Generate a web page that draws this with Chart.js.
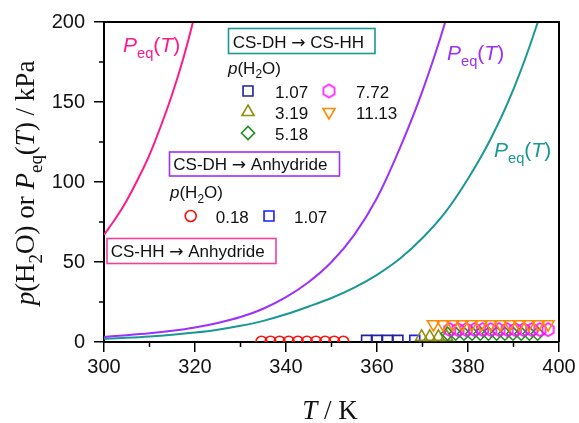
<!DOCTYPE html>
<html>
<head>
<meta charset="utf-8">
<script src="https://cdn.jsdelivr.net/npm/chart.js@4.4.1/dist/chart.umd.min.js"></script>
<style>
  html, body { margin: 0; padding: 0; background: #fff; }
  #wrap { width: 579px; height: 423px; }
</style>
</head>
<body>
<div id="wrap"><canvas id="chart" width="579" height="423"></canvas></div>
<script>
// axis ticks: temperature (K) and pressure (kPa)
const xTicks = [300, 320, 340, 360, 380, 400];
const yTicks = [0, 50, 100, 150, 200];

// equilibrium curves P_eq(T)
const hhAnhT = [300, 302.5, 305, 307.5, 310, 312.5, 315, 317.5, 320, 322.5];
const hhAnhP = [67, 77, 88.5, 102, 117, 135, 155, 178, 205, 235];

const dhAnhT = [300, 305, 310, 315, 320, 325, 330, 335, 340, 345, 350, 355, 360, 365, 370, 375, 380];
const dhAnhP = [3.2, 4.2, 5.4, 7.0, 9.1, 11.9, 15.6, 20.8, 28, 37.5, 50, 67, 90, 121, 157, 200, 252];

const dhHhT = [300, 305, 310, 315, 320, 325, 330, 335, 340, 345, 350, 355, 360, 365, 370, 375, 380, 385, 390, 395, 400];
const dhHhP = [2.0, 2.6, 3.4, 4.5, 5.9, 7.7, 10.1, 13.2, 17.3, 22.2, 27.5, 34, 42, 52, 65, 81, 102, 127, 158, 197, 245];

// water vapour pressures of the runs (kPa)
const pAnh = [0.18, 1.07];                    // CS-DH -> Anhydride
const pHh = [1.07, 3.19, 5.18, 7.72, 11.13];  // CS-DH -> CS-HH

// temperatures of the measured points
const anhCircleT = [334.6, 336.6, 338.6, 340.6, 342.6, 344.6, 346.6, 348.6, 350.6, 352.6];
const anhSquareT = [368.3];
const hhSquareT = [357.7, 360.0, 362.3, 364.6];
const hhTriT = [369.8, 371.6, 373.5, 375.3];
const hhDiamondT = [375.5, 377.3, 379.1, 380.9, 382.7, 384.5, 386.3, 388.1, 389.9, 391.7, 393.5, 395.3];
const hhHexT = [376.0, 377.8, 379.6, 381.4, 383.2, 385.0, 386.8, 388.6, 390.4, 392.2, 394.0, 395.8, 397.6];
const hhDownT = [372.4, 374.5, 376.6, 378.7, 380.8, 382.9, 385.0, 387.1, 389.2, 391.3, 393.4, 395.5, 397.6];

const SANS = "'Liberation Sans', Arial, sans-serif";
const SERIF = "'Liberation Serif', 'Times New Roman', serif";
const ARROW = "'DejaVu Sans', sans-serif";

const C_PINK = '#ff1a8c', C_PURPLE = '#9b30ff', C_TEAL = '#1a9893';

function hexagon(size, color, lw) {
  const c = document.createElement('canvas');
  c.width = c.height = size + 4;
  const g = c.getContext('2d');
  const r = size / 2, m = c.width / 2;
  g.beginPath();
  for (let i = 0; i < 6; i++) {
    const a = -Math.PI / 2 + i * Math.PI / 3;
    g.lineTo(m + r * Math.cos(a), m + r * Math.sin(a));
  }
  g.closePath();
  g.strokeStyle = color;
  g.lineWidth = lw;
  g.stroke();
  return c;
}

// marker looks, shared by the plot and the key
const mk = {
  anh018: { color: '#ff1010', pointStyle: 'circle', radius: 5.5, rotation: 0 },
  anh107: { color: '#1c1cff', pointStyle: 'rect', radius: 7, rotation: 0 },
  hh107: { color: '#22229a', pointStyle: 'rect', radius: 7, rotation: 0 },
  hh319: { color: '#8f8f10', pointStyle: 'triangle', radius: 7, rotation: 0 },
  hh518: { color: '#1f8f1f', pointStyle: 'rectRot', radius: 6.5, rotation: 0 },
  hh772: { color: '#ff10ff', pointStyle: hexagon(13, '#ff10ff', 1.6), radius: 7, rotation: 0 },
  hh1113: { color: '#ff8a00', pointStyle: 'triangle', radius: 7, rotation: 180 }
};

function pts(ts, ps) {
  return ts.map((t, i) => ({ x: t, y: Array.isArray(ps) ? ps[i] : ps }));
}

function markSet(ts, p, m) {
  return {
    data: pts(ts, p),
    showLine: false,
    pointStyle: m.pointStyle,
    pointRadius: m.radius,
    pointRotation: m.rotation,
    pointBorderColor: m.color,
    pointBackgroundColor: 'rgba(0,0,0,0)',
    pointBorderWidth: 1.6,
    pointHoverRadius: m.radius,
    clip: 0
  };
}

function curve(ts, ps, color) {
  return {
    data: pts(ts, ps),
    showLine: true,
    borderColor: color,
    borderWidth: 2,
    pointRadius: 0,
    cubicInterpolationMode: 'monotone',
    clip: 0
  };
}

// text made of runs: {t, it (italic), sub, f (font family)}
function rich(ctx, x, y, parts, size, family, color, align) {
  let w = 0;
  const runs = parts.map(p => {
    const fs = p.sub ? size * 0.7 : size;
    const font = (p.it ? 'italic ' : '') + fs + 'px ' + (p.f || family);
    ctx.font = font;
    const wd = ctx.measureText(p.t).width;
    w += wd;
    return { t: p.t, font, wd, dy: p.sub ? size * 0.28 : 0 };
  });
  let cx = align === 'center' ? x - w / 2 : x;
  ctx.fillStyle = color;
  ctx.textBaseline = 'alphabetic';
  ctx.textAlign = 'left';
  runs.forEach(r => {
    ctx.font = r.font;
    ctx.fillText(r.t, cx, y + r.dy);
    cx += r.wd;
  });
}

const peqParts = [{ t: 'P', it: true }, { t: 'eq', sub: true }, { t: '(' }, { t: 'T', it: true }, { t: ')' }];
const pwParts = [{ t: 'p', it: true }, { t: '(H' }, { t: '2', sub: true }, { t: 'O)' }];

function keyMark(ctx, m, x, y) {
  ctx.save();
  ctx.strokeStyle = m.color;
  ctx.fillStyle = 'rgba(0,0,0,0)';
  ctx.lineWidth = 1.6;
  Chart.helpers.drawPoint(ctx, { pointStyle: m.pointStyle, radius: m.radius, rotation: m.rotation, borderWidth: 1.6 }, x, y);
  ctx.restore();
}

function box(ctx, x, y, w, h, color, from, to, tx, ty) {
  ctx.save();
  ctx.strokeStyle = color;
  ctx.lineWidth = 1.6;
  ctx.strokeRect(x, y, w, h);
  ctx.restore();
  rich(ctx, tx, ty, [{ t: from + ' ' }, { t: '\u2192', f: ARROW }, { t: ' ' + to }], 17, SANS, '#111');
}

const decor = {
  id: 'decor',
  afterDraw(chart) {
    const ctx = chart.ctx;
    const a = chart.chartArea;
    const xs = chart.scales.x, ys = chart.scales.y;
    ctx.save();

    // frame on top and right
    ctx.strokeStyle = '#000';
    ctx.lineWidth = 2;
    ctx.beginPath();
    ctx.moveTo(a.left, a.top);
    ctx.lineTo(a.right, a.top);
    ctx.lineTo(a.right, a.bottom);
    ctx.stroke();

    // minor ticks
    ctx.lineWidth = 1.5;
    ctx.beginPath();
    for (let v = 310; v < 400; v += 20) {
      const px = xs.getPixelForValue(v);
      ctx.moveTo(px, a.bottom);
      ctx.lineTo(px, a.bottom + 5);
    }
    for (let v = 25; v < 200; v += 50) {
      const py = ys.getPixelForValue(v);
      ctx.moveTo(a.left, py);
      ctx.lineTo(a.left - 5, py);
    }
    ctx.stroke();

    // axis titles
    rich(ctx, 330, 419, [{ t: 'T', it: true }, { t: ' / K' }], 27, SERIF, '#111', 'center');
    ctx.save();
    ctx.translate(34, 183);
    ctx.rotate(-Math.PI / 2);
    rich(ctx, 0, 0, [{ t: 'p', it: true }, { t: '(H' }, { t: '2', sub: true }, { t: 'O) or ' },
      { t: 'P', it: true }, { t: 'eq', sub: true }, { t: '(' }, { t: 'T', it: true }, { t: ') / kPa' }],
      27, SERIF, '#111', 'center');
    ctx.restore();

    // curve labels
    rich(ctx, 123, 52, peqParts, 21, SANS, C_PINK);
    rich(ctx, 447, 60, peqParts, 21, SANS, C_PURPLE);
    rich(ctx, 494, 157, peqParts, 21, SANS, C_TEAL);

    // key: CS-DH -> CS-HH
    box(ctx, 228.5, 28.5, 146.5, 25, C_TEAL, 'CS-DH', 'CS-HH', 232.7, 47.5);
    rich(ctx, 228, 73.5, pwParts, 17, SANS, '#111');
    const hhKeys = [mk.hh107, mk.hh319, mk.hh518, mk.hh772, mk.hh1113];
    const hhPos = [[248, 91], [248, 112], [248, 133], [329, 91], [329, 112]];
    hhKeys.forEach((m, i) => {
      const [kx, ky] = hhPos[i];
      keyMark(ctx, m, kx, ky);
      ctx.font = '17px ' + SANS;
      ctx.fillStyle = '#111';
      ctx.textAlign = 'left';
      ctx.fillText(pHh[i].toFixed(2), kx + 27, ky + 6.5);
    });

    // key: CS-DH -> Anhydride
    box(ctx, 169.5, 152, 170, 24, C_PURPLE, 'CS-DH', 'Anhydride', 173.3, 170);
    rich(ctx, 170, 198, pwParts, 17, SANS, '#111');
    const anhKeys = [mk.anh018, mk.anh107];
    const anhPos = [[190.7, 216], [269, 216]];
    anhKeys.forEach((m, i) => {
      const [kx, ky] = anhPos[i];
      keyMark(ctx, m, kx, ky);
      ctx.font = '17px ' + SANS;
      ctx.fillStyle = '#111';
      ctx.textAlign = 'left';
      ctx.fillText(pAnh[i].toFixed(2), kx + 25, ky + 6.5);
    });

    // key: CS-HH -> Anhydride
    box(ctx, 107, 238.5, 169, 25, '#f0409a', 'CS-HH', 'Anhydride', 110.7, 256.5);

    ctx.restore();
  }
};

new Chart(document.getElementById('chart'), {
  type: 'scatter',
  data: {
    datasets: [
      markSet(hhDownT, pHh[4], mk.hh1113),
      markSet(hhHexT, pHh[3], mk.hh772),
      markSet(hhDiamondT, pHh[2], mk.hh518),
      markSet(hhTriT, pHh[1], mk.hh319),
      markSet(hhSquareT, pHh[0], mk.hh107),
      markSet(anhSquareT, pAnh[1], mk.anh107),
      markSet(anhCircleT, pAnh[0], mk.anh018),
      curve(hhAnhT, hhAnhP, C_PINK),
      curve(dhAnhT, dhAnhP, C_PURPLE),
      curve(dhHhT, dhHhP, C_TEAL)
    ]
  },
  options: {
    responsive: false,
    devicePixelRatio: 1,
    animation: false,
    layout: { padding: { left: 0, top: 22, right: 20, bottom: 0 } },
    plugins: { legend: { display: false }, tooltip: { enabled: false } },
    scales: {
      x: {
        type: 'linear',
        min: 300,
        max: 400,
        afterBuildTicks: s => { s.ticks = xTicks.map(v => ({ value: v })); },
        afterFit: s => { s.height = 81; },
        ticks: { font: { family: SANS, size: 20 }, color: '#111', padding: 3, maxRotation: 0, autoSkip: false },
        grid: { display: true, drawOnChartArea: false, drawTicks: true, tickLength: 10, color: '#000', lineWidth: 1.5 },
        border: { display: true, color: '#000', width: 2 }
      },
      y: {
        type: 'linear',
        min: 0,
        max: 200,
        afterBuildTicks: s => { s.ticks = yTicks.map(v => ({ value: v })); },
        afterFit: s => { s.width = 104; },
        ticks: { font: { family: SANS, size: 20 }, color: '#111', padding: 9, autoSkip: false },
        grid: { display: true, drawOnChartArea: false, drawTicks: true, tickLength: 10, color: '#000', lineWidth: 1.5 },
        border: { display: true, color: '#000', width: 2 }
      }
    }
  },
  plugins: [decor]
});
</script>
</body>
</html>
